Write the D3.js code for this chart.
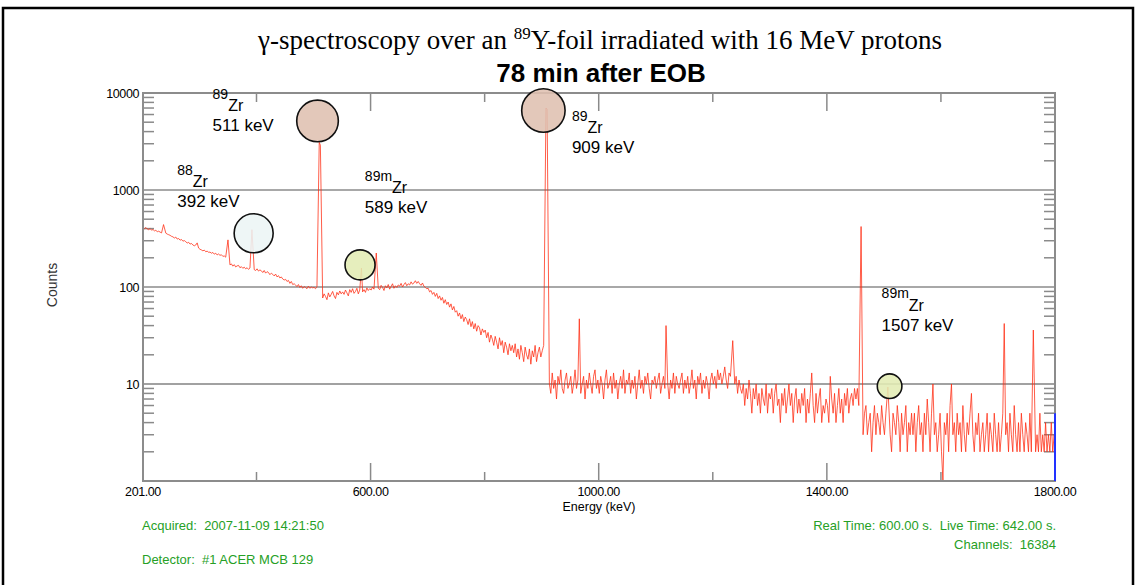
<!DOCTYPE html>
<html lang="en">
<head>
    <meta charset="UTF-8">
    <title>Gamma spectrum</title>
    <script src="https://cdn.jsdelivr.net/npm/d3@7/dist/d3.min.js"></script>
    <style>
        body { margin: 0; background: #fff; }
        text { font-family: "Liberation Sans", Arial, Helvetica, sans-serif; white-space: pre; }
    </style>
</head>
<body>
<svg width="1135" height="585"></svg>

<script>

    // continuum counts, one value every 2.5 keV starting at 201 keV (one row = 50 keV)
    var startEnergy = 201,
        stepEnergy = 2.5;
    var counts = [
        404, 399, 411, 396, 390, 401, 385, 392, 379, 384, 372, 376, 368, 361, 370, 356, 359, 351, 346, 341,
        333, 329, 320, 327, 312, 316, 304, 309, 297, 301, 293, 284, 289, 277, 281, 271, 266, 271, 258, 252,
        245, 241, 236, 240, 231, 234, 228, 229, 223, 227, 218, 223, 214, 219, 212, 215, 207, 209, 203, 196,
        178, 169, 173, 164, 170, 161, 165, 167, 158, 162, 156, 160, 154, 158, 152, 157, 150, 155, 151, 148,
        154, 146, 150, 147, 141, 148, 139, 144, 141, 134, 139, 135, 130, 136, 127, 131, 124, 127, 121, 118,
        120, 114, 117, 109, 114, 106, 108, 105, 101, 106, 99, 103, 97, 101, 99, 96, 102, 97, 100, 98,
        99, 96, 101, 98, 100, 82, 77, 85, 80, 74, 87, 79, 84, 90, 81, 76, 88, 83, 91, 85,
        89, 84, 93, 87, 81, 94, 88, 96, 86, 90, 97, 85, 93, 99, 89, 94, 88, 98, 92, 96,
        93, 100, 95, 89, 102, 97, 94, 104, 99, 92, 103, 98, 106, 95, 101, 108, 97, 103, 99, 105,
        102, 109, 100, 106, 111, 103, 108, 105, 113, 107, 110, 116, 109, 114, 108, 104, 110, 102, 99, 96,
        97, 89, 92, 84, 88, 80, 86, 76, 81, 73, 78, 68, 74, 66, 70, 62, 67, 58, 63, 55,
        57, 50, 54, 47, 52, 44, 49, 46, 41, 47, 39, 44, 37, 42, 35, 40, 38, 32, 37, 34,
        36, 30, 34, 27, 32, 29, 25, 31, 27, 23, 30, 25, 28, 21, 27, 24, 20, 26, 22, 25,
        21, 26, 19, 23, 18, 25, 21, 17, 24, 20, 18, 23, 16, 22, 19, 25, 17, 21, 24, 19,
        22, 25, 26, 26, 12, 10, 8, 13, 9, 11, 7, 12, 10, 14, 9, 8, 11, 13, 9, 10,
        12, 8, 10, 14, 9, 11, 13, 8, 10, 12, 7, 11, 9, 13, 10, 8, 12, 14, 9, 11,
        8, 12, 10, 7, 11, 14, 9, 10, 12, 8, 13, 9, 11, 7, 10, 12, 9, 14, 8, 11,
        10, 13, 8, 11, 9, 12, 7, 10, 14, 9, 11, 8, 12, 10, 13, 9, 7, 11, 10, 12,
        9, 11, 13, 8, 10, 12, 9, 14, 10, 7, 11, 9, 13, 8, 12, 10, 9, 11, 13, 8,
        11, 9, 12, 8, 10, 14, 9, 11, 7, 12, 10, 13, 8, 11, 9, 12, 10, 7, 11, 13,
        10, 12, 9, 14, 11, 13, 10, 12, 15, 11, 9, 13, 12, 16, 11, 10, 12, 8, 11, 9,
        8, 10, 6, 9, 7, 11, 8, 5, 9, 7, 10, 6, 8, 5, 9, 7, 6, 10, 5, 8,
        7, 9, 5, 8, 10, 6, 7, 4, 8, 6, 9, 5, 7, 10, 6, 8, 4, 7, 9, 5,
        7, 5, 8, 6, 9, 4, 7, 5, 8, 13, 6, 4, 8, 5, 7, 9, 4, 6, 5, 7,
        6, 4, 12, 7, 5, 8, 4, 6, 9, 5, 7, 4, 8, 6, 9, 5, 7, 8, 6, 9,
        7, 9, 6, 8, 4, 3, 5, 6, 3, 4, 5, 2, 4, 6, 3, 5, 4, 3, 6, 4,
        3, 5, 4, 6, 3, 2, 5, 4, 3, 6, 4, 2, 5, 3, 4, 6, 2, 4, 3, 5,
        3, 5, 2, 4, 6, 3, 4, 2, 5, 3, 7, 4, 2, 5, 10, 3, 4, 2, 3, 5,
        2, 1, 4, 3, 5, 2, 6, 10, 3, 4, 2, 5, 3, 4, 2, 6, 3, 2, 4, 3,
        5, 8, 3, 2, 4, 3, 5, 2, 3, 4, 2, 3, 5, 2, 4, 3, 2, 5, 3, 2,
        4, 2, 3, 5, 2, 3, 4, 2, 5, 3, 2, 6, 3, 2, 4, 2, 5, 3, 2, 4,
        3, 2, 5, 2, 3, 4, 2, 3, 2, 5, 2, 3, 2, 4, 2, 3, 2, 4, 2, 3,
        2
    ];

    // peaks on top of the continuum: [energy keV, counts]
    var peaks = [
        [237, 440], [296, 285], [350, 306], [392, 390],
        [510, 3100], [512, 2900], [584, 157], [610, 224],
        [907.5, 7000], [909.5, 6800], [966, 47], [1118, 40],
        [1235, 28], [1460, 420], [1507, 9.3], [1711, 42], [1762, 36]
    ];

    var xTicks = [201, 600, 1000, 1400, 1800];
    var xMinorTicks = [400, 800, 1200, 1600];
    var yTicks = [10, 100, 1000, 10000];

    // marked lines: circle centre [keV, counts], label anchor [keV, counts]
    var marks = [
        {mass: "88", name: "Zr", line: "392 keV", kind: "ref", at: [395, 358], label: [261, 1070]},
        {mass: "89", name: "Zr", line: "511 keV", kind: "main", at: [507, 5150], label: [323, 6500]},
        {mass: "89m", name: "Zr", line: "589 keV", kind: "meta", at: [581.5, 169], label: [590, 930]},
        {mass: "89", name: "Zr", line: "909 keV", kind: "main", at: [903, 6600], label: [953, 3840]},
        {mass: "89m", name: "Zr", line: "1507 keV", kind: "meta", at: [1510, 9.5], label: [1496, 57]}
    ];
    var markRadius = [19.5, 20.8, 15, 21.7, 12.3];
    var markFill = {ref: "#ecf5f5", main: "#dfc0b0", meta: "#e2ecb4"};

    var svg = d3.select("svg"),
        width = +svg.attr("width"),
        height = +svg.attr("height");

    var x = d3.scaleLinear().domain([201, 1800]).range([143, 1055]);
    var y = d3.scaleLog().domain([1, 10000]).range([481, 93]).clamp(true);

    // outer frame
    svg.append("rect")
        .attr("x", 3).attr("y", 8)
        .attr("width", 1130).attr("height", 620)
        .attr("fill", "none")
        .attr("stroke", "#000")
        .attr("stroke-width", 2.5);

    // title
    var title = svg.append("text")
        .attr("x", 600).attr("y", 49)
        .attr("text-anchor", "middle")
        .style("font-family", "'Liberation Serif', 'Times New Roman', serif")
        .style("font-size", "27px");
    title.append("tspan").text("γ-spectroscopy over an ");
    title.append("tspan").attr("dy", -10).style("font-size", "17px").text("89");
    title.append("tspan").attr("dy", 10).text("Y-foil irradiated with 16 MeV protons");

    svg.append("text")
        .attr("x", 601).attr("y", 82)
        .attr("text-anchor", "middle")
        .style("font-size", "26px")
        .style("font-weight", "bold")
        .text("78 min after EOB");

    /* grid */
    svg.append("g")
        .selectAll("line")
        .data(yTicks)
        .enter().append("line")
        .attr("x1", x(201)).attr("x2", x(1800))
        .attr("y1", function (d) { return y(d); })
        .attr("y2", function (d) { return y(d); })
        .attr("stroke", function (d) { return d == 10 ? "#444" : "#a8a8a8"; })
        .attr("stroke-width", function (d) { return d == 10 ? 1.2 : 2; });

    // minor y ticks on both sides
    var minorY = y.ticks().filter(function (d) {
        return [1, 10, 100, 1000, 10000].indexOf(d) < 0;
    });
    svg.append("g")
        .selectAll("line")
        .data(minorY)
        .enter().append("line")
        .attr("x1", x(201)).attr("x2", x(201) + 11)
        .attr("y1", function (d) { return y(d); })
        .attr("y2", function (d) { return y(d); })
        .attr("stroke", "#8a8a8a").attr("stroke-width", 1.5);
    svg.append("g")
        .selectAll("line")
        .data(minorY)
        .enter().append("line")
        .attr("x1", x(1800) - 11).attr("x2", x(1800))
        .attr("y1", function (d) { return y(d); })
        .attr("y2", function (d) { return y(d); })
        .attr("stroke", "#8a8a8a").attr("stroke-width", 1.5);

    // x ticks, bottom pointing up and top pointing down
    var xt = xTicks.slice(1, -1).map(function (d) { return [d, 18]; })
        .concat(xMinorTicks.map(function (d) { return [d, 9]; }));
    svg.append("g")
        .selectAll("line")
        .data(xt)
        .enter().append("line")
        .attr("x1", function (d) { return x(d[0]); })
        .attr("x2", function (d) { return x(d[0]); })
        .attr("y1", y(1)).attr("y2", function (d) { return y(1) - d[1]; })
        .attr("stroke", "#8a8a8a").attr("stroke-width", 1.5);
    svg.append("g")
        .selectAll("line")
        .data(xt)
        .enter().append("line")
        .attr("x1", function (d) { return x(d[0]); })
        .attr("x2", function (d) { return x(d[0]); })
        .attr("y1", y(10000)).attr("y2", function (d) { return y(10000) + d[1]; })
        .attr("stroke", "#8a8a8a").attr("stroke-width", 1.5);

    /* spectrum */
    var spectrum = counts.map(function (c, i) {
        return [startEnergy + i * stepEnergy, c];
    }).filter(function (p) {
        return !peaks.some(function (k) { return Math.abs(k[0] - p[0]) < 2; });
    }).concat(peaks).sort(function (a, b) { return a[0] - b[0]; });

    svg.append("clipPath").attr("id", "plot")
        .append("rect")
        .attr("x", x(201)).attr("y", y(10000))
        .attr("width", x(1800) - x(201)).attr("height", y(1) - y(10000));

    svg.append("path")
        .datum(spectrum)
        .attr("clip-path", "url(#plot)")
        .attr("fill", "none")
        .attr("stroke", "#ff2a10")
        .attr("stroke-width", 0.9)
        .attr("stroke-opacity", 0.85)
        .attr("d", d3.line()
            .x(function (d) { return x(d[0]); })
            .y(function (d) { return y(Math.max(d[1], 1)); }));

    // frame of the plot
    svg.append("rect")
        .attr("x", x(201)).attr("y", y(10000))
        .attr("width", x(1800) - x(201)).attr("height", y(1) - y(10000))
        .attr("fill", "none")
        .attr("stroke", "#8c8c8c")
        .attr("stroke-width", 2);

    // cursor at right edge
    svg.append("line")
        .attr("x1", x(1800)).attr("x2", x(1800))
        .attr("y1", y(5)).attr("y2", y(1))
        .attr("stroke", "#2233ff").attr("stroke-width", 2);

    /* axis labels */
    svg.append("g")
        .selectAll("text")
        .data(yTicks)
        .enter().append("text")
        .attr("x", x(201) - 4)
        .attr("y", function (d) { return y(d) + 4.5; })
        .attr("text-anchor", "end")
        .style("font-size", "12.5px")
        .style("letter-spacing", "-0.4px")
        .text(function (d) { return d; });

    svg.append("g")
        .selectAll("text")
        .data(xTicks)
        .enter().append("text")
        .attr("x", function (d) { return x(d); })
        .attr("y", 496)
        .attr("text-anchor", "middle")
        .style("font-size", "12.5px")
        .style("letter-spacing", "-0.4px")
        .text(function (d) { return d3.format(".2f")(d); });

    svg.append("text")
        .attr("x", 599).attr("y", 511)
        .attr("text-anchor", "middle")
        .style("font-size", "12.5px")
        .text("Energy (keV)");

    svg.append("text")
        .attr("transform", "translate(57,285) rotate(-90)")
        .attr("text-anchor", "middle")
        .style("font-size", "14px")
        .style("fill", "#333")
        .text("Counts");

    /* marked lines */
    svg.append("g")
        .selectAll("circle")
        .data(marks)
        .enter().append("circle")
        .attr("cx", function (d) { return x(d.at[0]); })
        .attr("cy", function (d) { return y(d.at[1]); })
        .attr("r", function (d, i) { return markRadius[i]; })
        .attr("fill", function (d) { return markFill[d.kind]; })
        .attr("fill-opacity", 0.88)
        .attr("stroke", "#111")
        .attr("stroke-width", 1.6);

    marks.forEach(function (d) {
        var lx = x(d.label[0]), ly = y(d.label[1]);
        var t = svg.append("text").attr("x", lx).attr("y", ly);
        t.append("tspan").attr("dy", -12.5).style("font-size", "14px").text(d.mass);
        t.append("tspan").attr("dy", 12.5).style("font-size", "16px").text(d.name);
        svg.append("text")
            .attr("x", lx).attr("y", ly + 20)
            .style("font-size", "17px")
            .text(d.line);
    });

    /* acquisition info */
    var green = "#26a026";
    svg.append("text").attr("x", 142).attr("y", 530)
        .style("font-size", "13px").style("fill", green)
        .text("Acquired:  2007-11-09 14:21:50");
    svg.append("text").attr("x", 142).attr("y", 564)
        .style("font-size", "13px").style("fill", green)
        .text("Detector:  #1 ACER MCB 129");
    svg.append("text").attr("x", 1056).attr("y", 530)
        .attr("text-anchor", "end")
        .style("font-size", "13px").style("fill", green)
        .text("Real Time: 600.00 s.  Live Time: 642.00 s.");
    svg.append("text").attr("x", 1056).attr("y", 549)
        .attr("text-anchor", "end")
        .style("font-size", "13px").style("fill", green)
        .text("Channels:  16384");

</script>

</body>
</html>
